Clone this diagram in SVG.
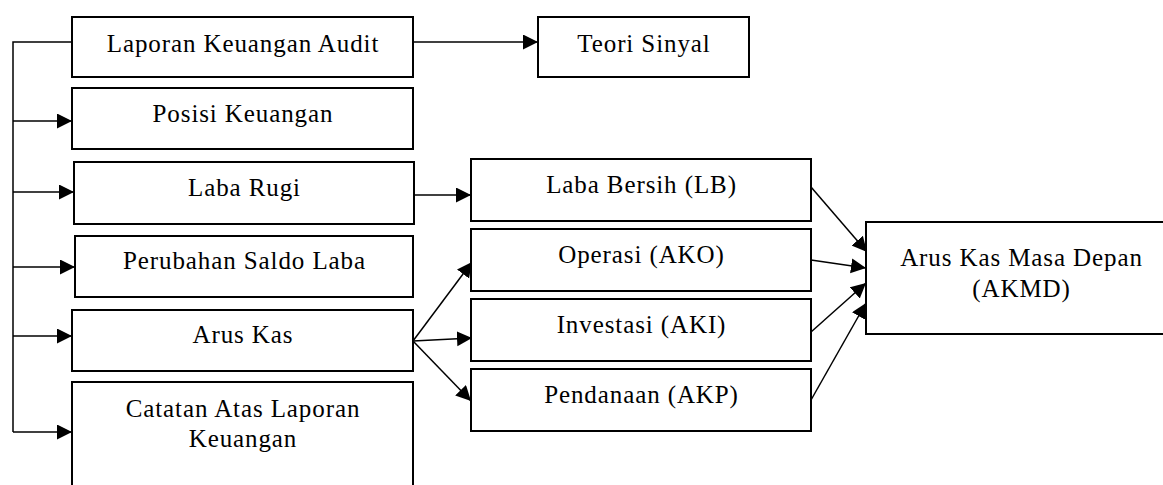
<svg xmlns="http://www.w3.org/2000/svg" width="1163" height="485" viewBox="0 0 1163 485">
<style>
.box{fill:#fff;stroke:#000;stroke-width:2}
.t{font-family:"Liberation Serif","Times New Roman",serif;font-size:25px;letter-spacing:0.9px;fill:#000;text-anchor:middle}
.c{fill:none;stroke:#000;stroke-width:1.5}
.ca{fill:none;stroke:#000;stroke-width:1.5;marker-end:url(#ah)}
</style>
<defs>
<marker id="ah" markerUnits="userSpaceOnUse" markerWidth="16" markerHeight="16" refX="15" refY="7.5" orient="auto">
<path d="M0,0 L15,7.5 L0,15 z" fill="#000"/>
</marker>
</defs>
<rect width="1163" height="485" fill="#fff"/>
<g id="connectors">
<polyline class="c" points="72,42 13,42 13,432"/>
<line class="ca" x1="413" y1="42" x2="538" y2="42"/>
<line class="ca" x1="13" y1="121" x2="72" y2="121"/>
<line class="ca" x1="13" y1="192" x2="74" y2="192"/>
<line class="ca" x1="13" y1="267" x2="75" y2="267"/>
<line class="ca" x1="13" y1="336" x2="72" y2="336"/>
<line class="ca" x1="13" y1="432" x2="72" y2="432"/>
<line class="ca" x1="414" y1="195" x2="471" y2="195"/>
<line class="ca" x1="413" y1="341" x2="472" y2="262"/>
<line class="ca" x1="413" y1="341" x2="472" y2="338"/>
<line class="ca" x1="413" y1="341" x2="471" y2="401"/>
<line class="ca" x1="811" y1="187" x2="867" y2="252"/>
<line class="ca" x1="811" y1="260" x2="866" y2="268"/>
<line class="ca" x1="811" y1="332" x2="866" y2="283"/>
<line class="ca" x1="811" y1="400" x2="866" y2="303"/>
</g>
<g id="laporan"><rect class="box" x="72" y="17" width="341" height="60"/><text class="t" x="243" y="52">Laporan Keuangan Audit</text></g>
<g id="teori"><rect class="box" x="538" y="17" width="211" height="60"/><text class="t" x="644" y="52">Teori Sinyal</text></g>
<g id="posisi"><rect class="box" x="72" y="88" width="341" height="61"/><text class="t" x="243" y="122">Posisi Keuangan</text></g>
<g id="labarugi"><rect class="box" x="74" y="162" width="340" height="62"/><text class="t" x="244.5" y="196">Laba Rugi</text></g>
<g id="perubahan"><rect class="box" x="75" y="236" width="338" height="61"/><text class="t" x="244.5" y="269">Perubahan Saldo Laba</text></g>
<g id="aruskas"><rect class="box" x="72" y="310" width="341" height="61"/><text class="t" x="243" y="343">Arus Kas</text></g>
<g id="catatan"><rect class="box" x="72" y="382" width="341" height="110"/><text class="t" x="243" y="417">Catatan Atas Laporan</text><text class="t" x="243" y="447">Keuangan</text></g>
<g id="lababersih"><rect class="box" x="471" y="159" width="340" height="62"/><text class="t" x="641.5" y="193">Laba Bersih (LB)</text></g>
<g id="operasi"><rect class="box" x="471" y="229" width="340" height="62"/><text class="t" x="641.5" y="263">Operasi (AKO)</text></g>
<g id="investasi"><rect class="box" x="471" y="299" width="340" height="62"/><text class="t" x="641.5" y="333">Investasi (AKI)</text></g>
<g id="pendanaan"><rect class="box" x="471" y="369" width="340" height="62"/><text class="t" x="641.5" y="403">Pendanaan (AKP)</text></g>
<g id="akmd"><rect class="box" x="866" y="222" width="310" height="112"/><text class="t" x="1021.5" y="266">Arus Kas Masa Depan</text><text class="t" x="1021.5" y="297">(AKMD)</text></g>
</svg>
